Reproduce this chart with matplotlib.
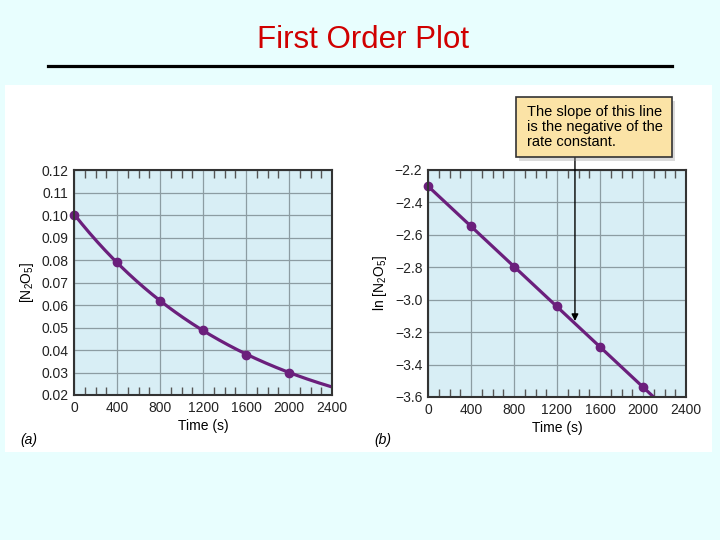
import numpy as np
import matplotlib.pyplot as plt
from matplotlib.patches import Rectangle

plt.rcParams['font.family'] = ['Liberation Sans', 'DejaVu Sans']
plt.rcParams['mathtext.fontset'] = 'custom'
plt.rcParams['mathtext.rm'] = 'Liberation Sans'

# Data
time_s = [0, 400, 800, 1200, 1600, 2000]
conc = [0.100, 0.079, 0.062, 0.049, 0.038, 0.030]
ln_conc = [-2.30, -2.545, -2.80, -3.04, -3.29, -3.54]
x_ticks = [0, 400, 800, 1200, 1600, 2000, 2400]
left_yticks = [0.02, 0.03, 0.04, 0.05, 0.06, 0.07, 0.08, 0.09, 0.10, 0.11, 0.12]
right_yticks = [-3.6, -3.4, -3.2, -3.0, -2.8, -2.6, -2.4, -2.2]

purple = '#6B1F7C'
W, H = 720, 540

fig = plt.figure(figsize=(7.2, 5.4), dpi=100)
fig.patch.set_facecolor('#E8FEFE')

# white panel behind both plots
fig.patches.append(Rectangle((5 / W, 1 - 452 / H), 707 / W, 367 / H,
                             transform=fig.transFigure, facecolor='white',
                             edgecolor='none', zorder=-5))

# title and rule
fig.text(363 / W, 1 - 40 / H, 'First Order Plot', color='#D00000',
         fontsize=22.5, ha='center', va='center')
fig.add_artist(plt.Line2D([48 / W, 672 / W], [1 - 66 / H, 1 - 66 / H],
                          transform=fig.transFigure, color='black', lw=2.3))


def style_axes(ax, yticks, fmt):
    ax.set_facecolor('#D8EEF5')
    ax.set_xlim(0, 2400)
    ax.set_ylim(yticks[0], yticks[-1])
    ax.set_xticks(x_ticks)
    ax.set_yticks(yticks)
    ax.set_yticklabels([fmt(v) for v in yticks])
    ax.set_xticks(np.arange(100, 2400, 100), minor=True)
    ax.tick_params(axis='both', which='major', length=0, labelsize=10,
                   pad=4, colors='#222222')
    ax.tick_params(axis='x', which='minor', direction='in', length=6,
                   top=True, bottom=True, color='#555555', width=1)
    ax.grid(True, which='major', color='#8C9CA2', lw=0.9)
    for s in ax.spines.values():
        s.set_color('#333333')
        s.set_linewidth(1.5)
    ax.set_xlabel('Time (s)', fontsize=10, labelpad=3)
    ax.set_axisbelow(True)


# (a) concentration vs time
ax1 = fig.add_axes([74 / W, 1 - 395 / H, 258 / W, 225 / H])
style_axes(ax1, left_yticks, lambda v: f'{v:.2f}')
k, ln_c0 = np.polyfit(time_s, np.log(conc), 1)
t_fit = np.linspace(0, 2400, 200)
ax1.plot(t_fit, np.exp(ln_c0 + k * t_fit), color=purple, lw=2.3)
ax1.plot(time_s, conc, 'o', color=purple, ms=6, clip_on=False)
ax1.set_ylabel('[N$_2$O$_5$]', fontsize=10, labelpad=4)

# (b) ln concentration vs time
ax2 = fig.add_axes([428 / W, 1 - 397 / H, 258 / W, 227 / H])
style_axes(ax2, right_yticks, lambda v: f'{v:.1f}'.replace('-', '\u2212'))
m, b = np.polyfit(time_s, ln_conc, 1)
ax2.plot(t_fit, m * t_fit + b, color=purple, lw=2.3)
ax2.plot(time_s, ln_conc, 'o', color=purple, ms=6, clip_on=False)
ax2.set_ylabel('ln [N$_2$O$_5$]', fontsize=10, labelpad=4)

fig.text(20 / W, 1 - 440 / H, '(a)', fontsize=10, style='italic', va='center')
fig.text(374 / W, 1 - 440 / H, '(b)', fontsize=10, style='italic', va='center')

# callout box with shadow
fig.patches.append(Rectangle((519 / W, 1 - 161 / H), 156 / W, 60 / H,
                             transform=fig.transFigure, facecolor='#999999',
                             edgecolor='none', alpha=0.35, zorder=3))
fig.patches.append(Rectangle((516 / W, 1 - 157 / H), 156 / W, 60 / H,
                             transform=fig.transFigure, facecolor='#FBE3A6',
                             edgecolor='#333333', lw=1.2, zorder=4))
fig.text(527 / W, 1 - 127 / H,
         'The slope of this line\nis the negative of the\nrate constant.',
         fontsize=10.5, va='center', ha='left', linespacing=1.1, zorder=5)

# vertical arrow from the box down to the line
t_arrow = 1367
ax2.annotate('', xy=(t_arrow, m * t_arrow + b + 0.015),
             xytext=(t_arrow, 0), textcoords=('data', 'figure fraction'),
             arrowprops=dict(arrowstyle='-|>', color='black', lw=1,
                             mutation_scale=10, shrinkA=0, shrinkB=0),
             annotation_clip=False)
ax2.texts[-1].xyann = (t_arrow, 1 - 157 / H)

fig.savefig('out.png', dpi=100, facecolor=fig.get_facecolor())
